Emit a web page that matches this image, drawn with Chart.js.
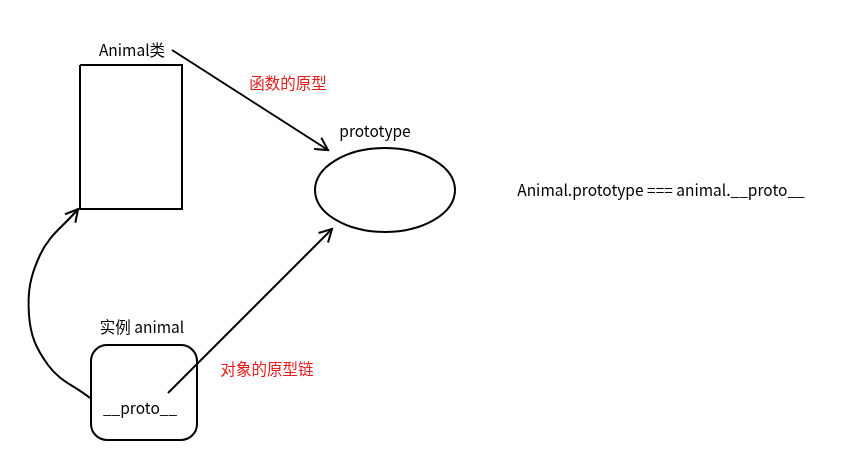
<!DOCTYPE html>
<html>
<head>
<meta charset="utf-8">
<script src="https://cdn.jsdelivr.net/npm/chart.js@4"></script>
<style>
  html, body { margin: 0; padding: 0; background: #fff; }
  #wrap { width: 845px; height: 464px; }
</style>
</head>
<body>
<div id="wrap"><canvas id="diagram"></canvas></div>
<script>
// outline of the class box and the instance box
const classBox = [{x: 80, y: 65}, {x: 182, y: 65}, {x: 182, y: 209}, {x: 80, y: 209}, {x: 80, y: 65}];
const instanceBox = {x1: 91, y1: 345, x2: 197, y2: 440, r: 16};
const protoEllipse = {x: 385, y: 190, rx: 70, ry: 42};

// arrows
const fnArrow = [{x: 172, y: 50}, {x: 328, y: 150}];
const chainArrow = [{x: 168, y: 393}, {x: 332, y: 229}];
const ctorArrow = [{x: 90, y: 398}, {x: 48, y: 365}, {x: 29, y: 315}, {x: 40, y: 255}, {x: 78, y: 209}];

// labels
const labels = [
  {x: 132, y: 50, text: 'Animal类', color: '#000'},
  {x: 288, y: 83, text: '函数的原型', color: '#e81b1b'},
  {x: 375, y: 131, text: 'prototype', color: '#000'},
  {x: 661, y: 190, text: 'Animal.prototype === animal.__proto__', color: '#000'},
  {x: 142, y: 327, text: '实例 animal', color: '#000'},
  {x: 140, y: 408, text: '__proto__', color: '#000'},
  {x: 267, y: 369, text: '对象的原型链', color: '#e81b1b'}
];

const lineSet = (pts, tension) => ({
  data: pts, showLine: true, borderColor: '#000', borderWidth: 2,
  pointRadius: 0, tension: tension || 0
});

function arrowHead(ctx, x0, y0, x1, y1) {
  const a = Math.atan2(y1 - y0, x1 - x0), len = 14, spread = 0.5;
  ctx.beginPath();
  ctx.moveTo(x1 - len * Math.cos(a - spread), y1 - len * Math.sin(a - spread));
  ctx.lineTo(x1, y1);
  ctx.lineTo(x1 - len * Math.cos(a + spread), y1 - len * Math.sin(a + spread));
  ctx.stroke();
}

const extras = {
  id: 'extras',
  afterDatasetsDraw(chart) {
    const ctx = chart.ctx, xs = chart.scales.x, ys = chart.scales.y;
    const px = v => xs.getPixelForValue(v), py = v => ys.getPixelForValue(v);
    ctx.save();
    ctx.strokeStyle = '#000';
    ctx.lineWidth = 2;
    // ellipse
    ctx.beginPath();
    ctx.ellipse(px(protoEllipse.x), py(protoEllipse.y),
      Math.abs(px(protoEllipse.x + protoEllipse.rx) - px(protoEllipse.x)),
      Math.abs(py(protoEllipse.y + protoEllipse.ry) - py(protoEllipse.y)), 0, 0, Math.PI * 2);
    ctx.stroke();
    // rounded box
    const b = instanceBox;
    ctx.beginPath();
    ctx.roundRect(px(b.x1), py(b.y1), px(b.x2) - px(b.x1), py(b.y2) - py(b.y1), b.r);
    ctx.stroke();
    // arrow heads
    [fnArrow, chainArrow].forEach(p => arrowHead(ctx, px(p[0].x), py(p[0].y), px(p[1].x), py(p[1].y)));
    const n = ctorArrow.length;
    arrowHead(ctx, px(ctorArrow[n - 2].x), py(ctorArrow[n - 2].y), px(ctorArrow[n - 1].x), py(ctorArrow[n - 1].y));
    // text
    ctx.font = '15.5px "Noto Sans CJK SC", "Noto Sans", sans-serif';
    ctx.textAlign = 'center';
    ctx.textBaseline = 'middle';
    labels.forEach(l => { ctx.fillStyle = l.color; ctx.fillText(l.text, px(l.x), py(l.y)); });
    ctx.restore();
  }
};

new Chart(document.getElementById('diagram'), {
  type: 'scatter',
  data: {
    datasets: [lineSet(classBox), lineSet(fnArrow), lineSet(chainArrow), lineSet(ctorArrow, 0.4)]
  },
  options: {
    responsive: true, maintainAspectRatio: false, animation: false,
    layout: { padding: 0 },
    scales: {
      x: { type: 'linear', min: 0, max: 845, display: false },
      y: { type: 'linear', min: 0, max: 464, reverse: true, display: false }
    },
    plugins: { legend: { display: false }, tooltip: { enabled: false } }
  },
  plugins: [extras]
});
</script>
</body>
</html>
